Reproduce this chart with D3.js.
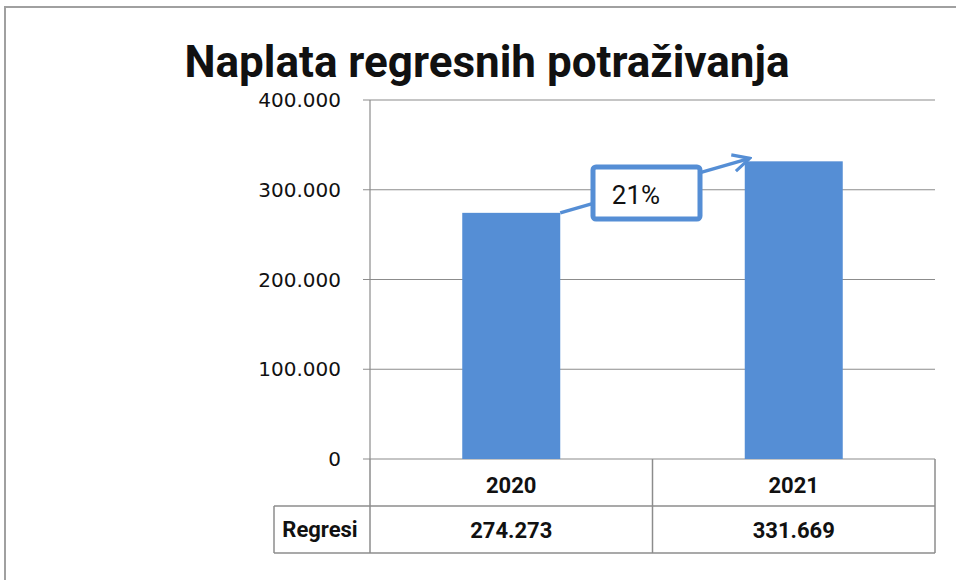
<!DOCTYPE html>
<html>
<head>
<meta charset="utf-8">
<script src="https://d3js.org/d3.v7.min.js"></script>
<style>
  body { margin: 0; background: #fff; }
  text { font-family: "Roboto", "Liberation Sans", sans-serif; fill: #111; }
</style>
</head>
<body>
  <div id="my_dataviz"></div>
  <script>
    var title = "Naplata regresnih potraživanja";
    var years = ["2020", "2021"];
    var regresi = [274273, 331669];
    var seriesName = "Regresi";
    var yTicks = [0, 100000, 200000, 300000, 400000];
    var growthLabel = "21%";

    var width = 956, height = 580;
    var margin = {top: 100, right: 21, bottom: 121, left: 370};

    var svg = d3.select("#my_dataviz")
      .append("svg")
      .attr("width", width)
      .attr("height", height);

    // outer frame
    svg.append("rect")
      .attr("x", 5).attr("y", 7)
      .attr("width", 1000).attr("height", 1000)
      .style("fill", "none").style("stroke", "#a0a0a0").style("stroke-width", 2);

    svg.append("text")
      .attr("x", 487).attr("y", 77)
      .attr("text-anchor", "middle")
      .style("font-size", "44px").style("font-weight", "bold")
      .text(title);

    var x = d3.scaleBand()
      .domain(years)
      .range([margin.left, width - margin.right]);

    var y = d3.scaleLinear()
      .domain([0, 400000])
      .range([height - margin.bottom, margin.top]);

    var fmt = function(v) { return d3.format(",")(v).replace(/,/g, "."); };

    // gridlines
    svg.selectAll(".grid")
      .data(yTicks)
      .enter()
      .append("line")
      .attr("x1", margin.left - 7)
      .attr("x2", width - margin.right)
      .attr("y1", function(d) { return y(d); })
      .attr("y2", function(d) { return y(d); })
      .style("stroke", "#8c8c8c").style("stroke-width", 1.2);

    svg.append("line")
      .attr("x1", margin.left).attr("x2", margin.left)
      .attr("y1", y(400000)).attr("y2", y(0))
      .style("stroke", "#8c8c8c").style("stroke-width", 1.2);

    svg.selectAll(".ylab")
      .data(yTicks)
      .enter()
      .append("text")
      .attr("x", 341)
      .attr("y", function(d) { return y(d) + 7; })
      .attr("text-anchor", "end")
      .style("font-family", "'DejaVu Sans', sans-serif")
      .style("font-size", "20px")
      .text(function(d) { return fmt(d); });

    // bars
    var barW = 98;
    svg.selectAll(".bar")
      .data(regresi)
      .enter()
      .append("rect")
      .attr("x", function(d, i) { return x(years[i]) + x.bandwidth() / 2 - barW / 2; })
      .attr("y", function(d) { return y(d); })
      .attr("width", barW)
      .attr("height", function(d) { return y(0) - y(d); })
      .style("fill", "#558ed5");

    // data table
    var rowH = 47;
    var t0 = y(0);
    var g = svg.append("g").style("stroke", "#8c8c8c").style("stroke-width", 1.5);
    g.append("line").attr("x1", margin.left).attr("x2", width - margin.right)
      .attr("y1", t0 + rowH).attr("y2", t0 + rowH);
    g.append("line").attr("x1", 274).attr("x2", 274)
      .attr("y1", t0 + rowH).attr("y2", t0 + 2 * rowH);
    g.append("line").attr("x1", 274).attr("x2", width - margin.right)
      .attr("y1", t0 + 2 * rowH).attr("y2", t0 + 2 * rowH);
    g.append("line").attr("x1", 274).attr("x2", margin.left)
      .attr("y1", t0 + rowH).attr("y2", t0 + rowH);
    [margin.left, x("2021"), width - margin.right].forEach(function(xx) {
      g.append("line").attr("x1", xx).attr("x2", xx)
        .attr("y1", t0).attr("y2", t0 + 2 * rowH);
    });

    svg.selectAll(".cat")
      .data(years)
      .enter()
      .append("text")
      .attr("x", function(d) { return x(d) + x.bandwidth() / 2; })
      .attr("y", t0 + 34)
      .attr("text-anchor", "middle")
      .style("font-size", "22px").style("font-weight", "bold")
      .text(function(d) { return d; });

    svg.selectAll(".val")
      .data(regresi)
      .enter()
      .append("text")
      .attr("x", function(d, i) { return x(years[i]) + x.bandwidth() / 2; })
      .attr("y", t0 + rowH + 32)
      .attr("text-anchor", "middle")
      .style("font-size", "22px").style("font-weight", "bold")
      .text(function(d) { return fmt(d); });

    svg.append("text")
      .attr("x", 320).attr("y", t0 + rowH + 31)
      .attr("text-anchor", "middle")
      .style("font-size", "22px").style("font-weight", "bold")
      .text(seriesName);

    // growth arrow + callout
    svg.append("defs").append("marker")
      .attr("id", "arr")
      .attr("viewBox", "0 0 10 10")
      .attr("refX", 9).attr("refY", 5)
      .attr("markerWidth", 6).attr("markerHeight", 6)
      .attr("orient", "auto")
      .append("path")
      .attr("d", "M1,1 L9,5 L1,9")
      .style("fill", "none").style("stroke", "#558ed5").style("stroke-width", 1.5);

    var x1 = x("2020") + x.bandwidth() / 2 + barW / 2;
    var x2 = x("2021") + x.bandwidth() / 2 - barW / 2 + 5;
    svg.append("line")
      .attr("x1", x1).attr("y1", y(regresi[0]))
      .attr("x2", x2).attr("y2", y(regresi[1]) - 3)
      .attr("marker-end", "url(#arr)")
      .style("stroke", "#558ed5").style("stroke-width", 3.5);

    svg.append("rect")
      .attr("x", 593).attr("y", 167)
      .attr("width", 107).attr("height", 52)
      .attr("rx", 3)
      .style("fill", "#fff").style("stroke", "#558ed5").style("stroke-width", 5);

    svg.append("text")
      .attr("x", 636).attr("y", 204)
      .attr("text-anchor", "middle")
      .style("font-size", "26px")
      .text(growthLabel);
  </script>
</body>
</html>
